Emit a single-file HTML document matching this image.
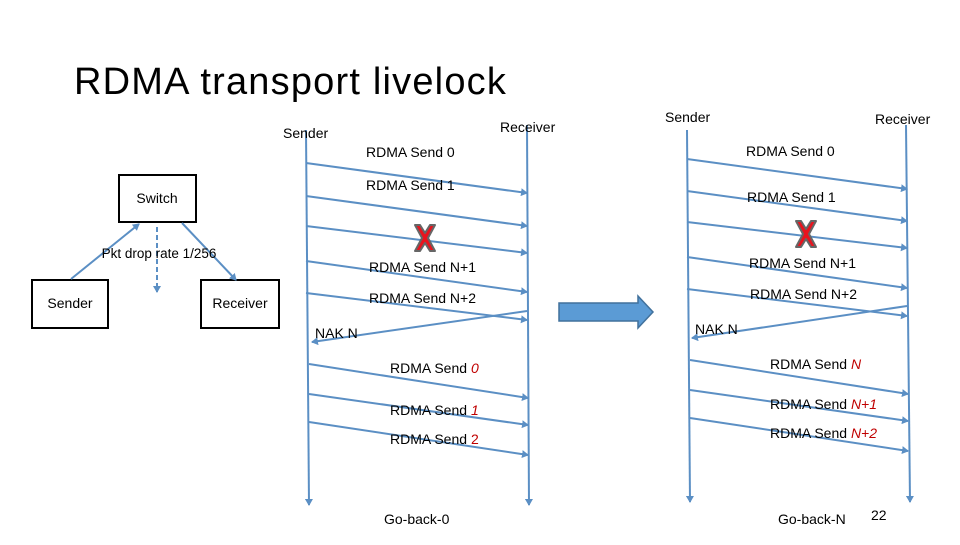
<!DOCTYPE html>
<html><head><meta charset="utf-8"><style>
body{margin:0;background:#fff}
svg text{font-family:"Liberation Sans",sans-serif}
</style></head><body>
<svg width="960" height="540" viewBox="0 0 960 540" xmlns="http://www.w3.org/2000/svg">
<defs>
<marker id="a" markerWidth="8" markerHeight="8" refX="6" refY="4" orient="auto" markerUnits="userSpaceOnUse">
<path d="M0,0 L7,4 L0,8 z" fill="#5b8fc4"/></marker>
<path id="x" d="M-10,-13 L-5,-13 L0,-5 L5,-13 L10,-13 L3,0 L10,13 L5,13 L0,5 L-5,13 L-10,13 L-3,0 z" fill="#e8141e" stroke="#666" stroke-width="2" stroke-linejoin="round"/>
</defs>
<text x="74" y="94" font-size="38" style="letter-spacing:1.2px">RDMA transport livelock</text>

<!-- tree -->
<rect x="119" y="175" width="77" height="47" fill="#fff" stroke="#000" stroke-width="2"/>
<text x="157" y="203" font-size="14" text-anchor="middle">Switch</text>
<rect x="32" y="280" width="76" height="48" fill="#fff" stroke="#000" stroke-width="2"/>
<text x="70" y="308" font-size="14" text-anchor="middle">Sender</text>
<rect x="201" y="280" width="78" height="48" fill="#fff" stroke="#000" stroke-width="2"/>
<text x="240" y="308" font-size="14" text-anchor="middle">Receiver</text>
<g stroke="#5b8fc4" stroke-width="2" fill="none">
<line x1="71" y1="279" x2="139" y2="224" marker-end="url(#a)"/>
<line x1="157" y1="227" x2="157" y2="292" stroke-dasharray="5,3" marker-end="url(#a)"/>
<line x1="182" y1="223" x2="236" y2="280" marker-end="url(#a)"/>
</g>
<text x="159" y="258" font-size="13.5" text-anchor="middle">Pkt drop rate 1/256</text>

<!-- left sequence -->
<g stroke="#5b8fc4" stroke-width="2" fill="none">
<line x1="306" y1="130" x2="309" y2="505" marker-end="url(#a)"/>
<line x1="527" y1="125" x2="529" y2="505" marker-end="url(#a)"/>
<line x1="306" y1="163" x2="527" y2="193" marker-end="url(#a)"/>
<line x1="306" y1="196" x2="527" y2="226" marker-end="url(#a)"/>
<line x1="306" y1="226" x2="527" y2="253" marker-end="url(#a)"/>
<line x1="306" y1="261" x2="527" y2="292" marker-end="url(#a)"/>
<line x1="306" y1="293" x2="527" y2="320" marker-end="url(#a)"/>
<line x1="527" y1="311" x2="312" y2="342" marker-end="url(#a)"/>
<line x1="309" y1="364" x2="528" y2="398" marker-end="url(#a)"/>
<line x1="309" y1="394" x2="528" y2="425" marker-end="url(#a)"/>
<line x1="309" y1="422" x2="528" y2="455" marker-end="url(#a)"/>
</g>
<text x="283" y="138" font-size="14">Sender</text>
<text x="500" y="132" font-size="14">Receiver</text>
<text x="366" y="157" font-size="14">RDMA Send 0</text>
<text x="366" y="190" font-size="14">RDMA Send 1</text>
<text x="369" y="272" font-size="14">RDMA Send N+1</text>
<text x="369" y="303" font-size="14">RDMA Send N+2</text>
<text x="315" y="338" font-size="14">NAK N</text>
<text x="390" y="373" font-size="14">RDMA Send <tspan fill="#c00000" font-style="italic">0</tspan></text>
<text x="390" y="415" font-size="14">RDMA Send <tspan fill="#c00000" font-style="italic">1</tspan></text>
<text x="390" y="444" font-size="14">RDMA Send <tspan fill="#c00000">2</tspan></text>
<text x="384" y="524" font-size="14">Go-back-0</text>
<use href="#x" x="425" y="238"/>

<!-- big arrow -->
<path d="M559,303 L638,303 L638,296 L653,312 L638,328 L638,321 L559,321 z" fill="#5b9bd5" stroke="#41719c" stroke-width="1.5"/>

<!-- right sequence -->
<g stroke="#5b8fc4" stroke-width="2" fill="none">
<line x1="687" y1="130" x2="690" y2="502" marker-end="url(#a)"/>
<line x1="906" y1="125" x2="910" y2="502" marker-end="url(#a)"/>
<line x1="687" y1="159" x2="907" y2="189" marker-end="url(#a)"/>
<line x1="687" y1="191" x2="907" y2="221" marker-end="url(#a)"/>
<line x1="687" y1="222" x2="907" y2="248" marker-end="url(#a)"/>
<line x1="687" y1="257" x2="907" y2="288" marker-end="url(#a)"/>
<line x1="687" y1="289" x2="907" y2="316" marker-end="url(#a)"/>
<line x1="907" y1="306" x2="692" y2="338" marker-end="url(#a)"/>
<line x1="690" y1="360" x2="908" y2="394" marker-end="url(#a)"/>
<line x1="690" y1="390" x2="908" y2="421" marker-end="url(#a)"/>
<line x1="690" y1="418" x2="908" y2="451" marker-end="url(#a)"/>
</g>
<text x="665" y="122" font-size="14">Sender</text>
<text x="875" y="124" font-size="14">Receiver</text>
<text x="746" y="156" font-size="14">RDMA Send 0</text>
<text x="747" y="202" font-size="14">RDMA Send 1</text>
<text x="749" y="268" font-size="14">RDMA Send N+1</text>
<text x="750" y="299" font-size="14">RDMA Send N+2</text>
<text x="695" y="334" font-size="14">NAK N</text>
<text x="770" y="369" font-size="14">RDMA Send <tspan fill="#c00000" font-style="italic">N</tspan></text>
<text x="770" y="409" font-size="14">RDMA Send <tspan fill="#c00000" font-style="italic">N+1</tspan></text>
<text x="770" y="438" font-size="14">RDMA Send <tspan fill="#c00000" font-style="italic">N+2</tspan></text>
<text x="778" y="524" font-size="14">Go-back-N</text>
<text x="871" y="520" font-size="14">22</text>
<use href="#x" x="806" y="234"/>
</svg>
</body></html>
